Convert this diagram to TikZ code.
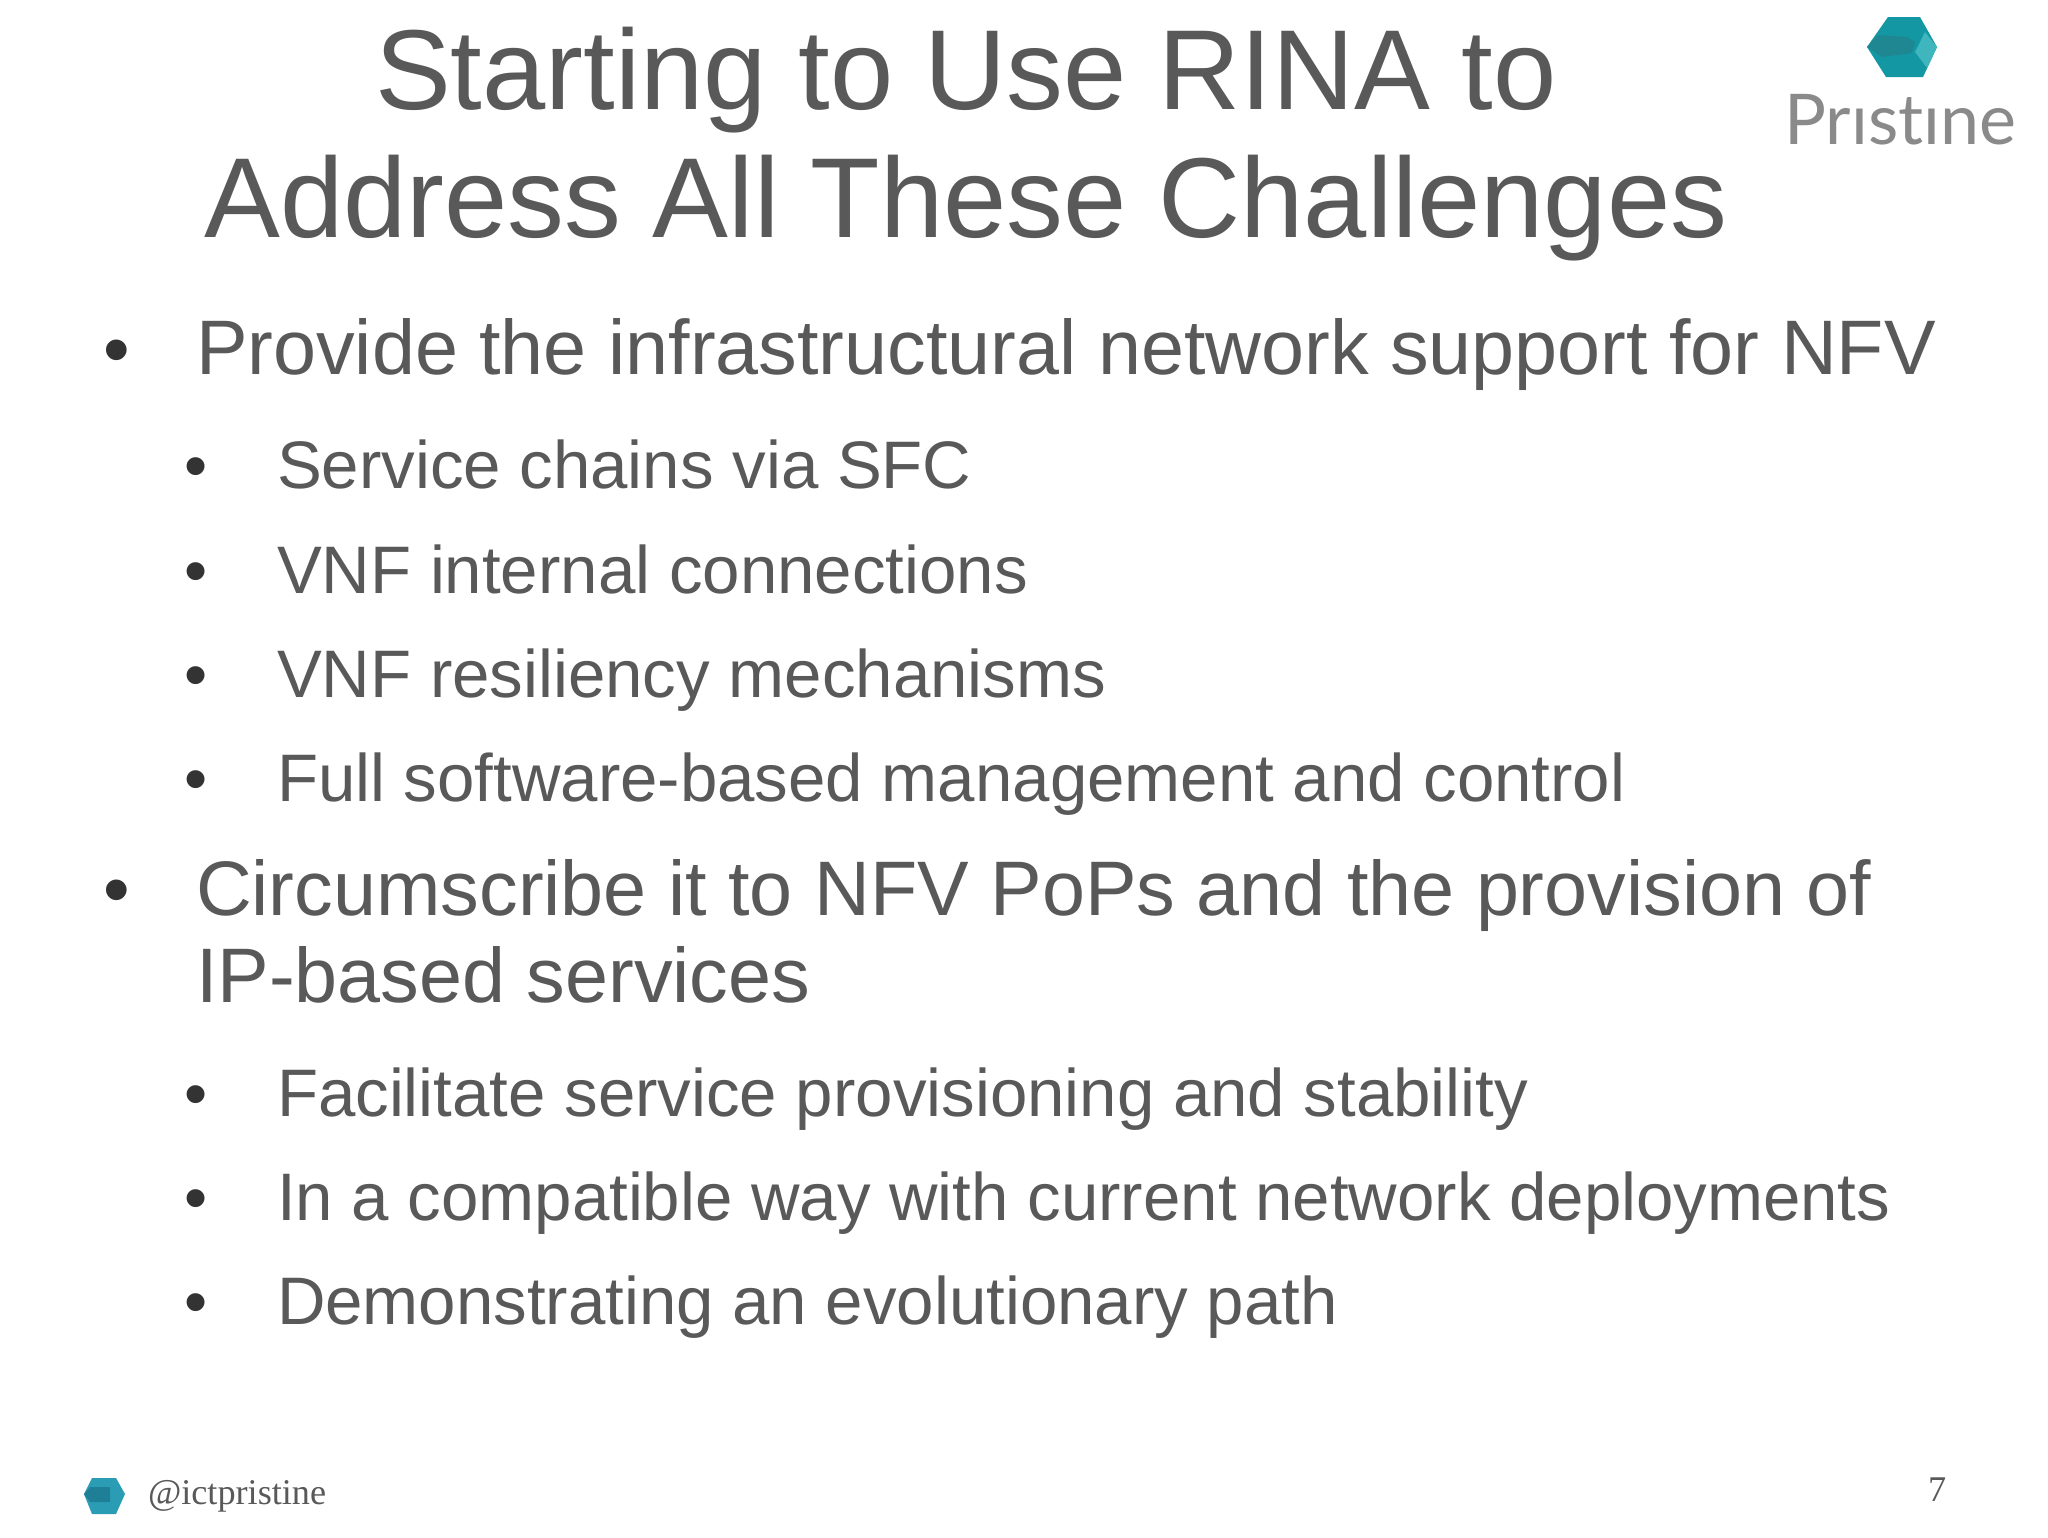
\documentclass[tikz,border=0pt]{standalone}
\usepackage{fontspec}
\setmainfont{Liberation Sans}
\newfontfamily\footfont{Liberation Serif}
\newfontfamily\logofont{Lato}
\definecolor{bodygrey}{HTML}{595959}
\definecolor{bulletdark}{HTML}{333333}
\definecolor{logogrey}{HTML}{8A8A8A}
\definecolor{tealmain}{HTML}{1297A3}
\definecolor{tealdark}{HTML}{1F8791}
\definecolor{teallight}{HTML}{3FB5BD}
\definecolor{footmain}{HTML}{2A9DB5}
\definecolor{footdark}{HTML}{1F7F96}
\tikzset{x=1pt,y=-1pt,
 txt/.style={anchor=base west,inner sep=0pt,outer sep=0pt,text=bodygrey},
 ttl/.style={anchor=base,inner sep=0pt,text=bodygrey,font=\fontsize{113.7}{128}\selectfont},
 lone/.style={txt,font=\fontsize{77.3}{88}\selectfont},
 ltwo/.style={txt,font=\fontsize{67.2}{78}\selectfont},
 bone/.style={anchor=base,inner sep=0pt,text=bulletdark,font=\fontsize{76}{88}\selectfont},
 btwo/.style={anchor=base,inner sep=0pt,text=bulletdark,font=\fontsize{66}{78}\selectfont},
 foot/.style={txt,font=\footfont\fontsize{36.2}{42}\selectfont}}
\begin{document}
\begin{tikzpicture}
\useasboundingbox (0,0) rectangle (2048,1537);
\fill[white] (0,0) rectangle (2048,1537);
\node[ttl] (t1) at (966,109) {Starting to Use RINA to};
\node[ttl] (t2) at (966,237) {Address All These Challenges};
% top-right logo
\fill[tealmain] (1867,47) -- (1888,17) -- (1920,17) -- (1937,47) -- (1923,77) -- (1886,77) -- cycle;
\fill[tealdark] (1867,47) -- (1878,35) -- (1907,37) -- (1915,42) -- (1912,53) -- (1882,57) -- cycle;
\fill[teallight] (1925,32) -- (1937,47) -- (1927,68) -- (1915,52) -- cycle;
\node[anchor=base west,inner sep=0pt,text=logogrey,font=\logofont\fontsize{70}{80}\selectfont] (logo) at (1784,144) {Prıst\kern0ptıne};
% body
\node[bone] (b1) at (117,375) {•};
\node[lone] (l1) at (196,374) {Provide the infrastructural network support for NFV};
\node[btwo] (b2) at (196,488) {•};
\node[ltwo] (l2) at (277,488) {Service chains via SFC};
\node[btwo] (b3) at (196,593) {•};
\node[ltwo] (l3) at (277,593) {VNF internal connections};
\node[btwo] (b4) at (196,697) {•};
\node[ltwo] (l4) at (277,697) {VNF resiliency mechanisms};
\node[btwo] (b5) at (196,801) {•};
\node[ltwo] (l5) at (277,801) {Full software-based management and control};
\node[bone] (b6) at (117,915) {•};
\node[lone] (l6) at (196,915) {Circumscribe it to NFV PoPs and the provision of};
\node[lone] (l7) at (196,1002) {IP-based services};
\node[btwo] (b7) at (196,1116) {•};
\node[ltwo] (l8) at (277,1116) {Facilitate service provisioning and stability};
\node[btwo] (b8) at (196,1220) {•};
\node[ltwo] (l9) at (277,1220) {In a compatible way with current network deployments};
\node[btwo] (b9) at (196,1324) {•};
\node[ltwo] (l10) at (277,1324) {Demonstrating an evolutionary path};
% footer
\fill[footmain] (84,1494) -- (92,1478) -- (116,1478) -- (125,1494) -- (116,1514) -- (92,1514) -- cycle;
\fill[footdark] (84,1494) -- (90,1487) -- (110,1487) -- (110,1502) -- (90,1502) -- cycle;
\node[foot] (f1) at (148,1504) {@ictpristine};
\node[foot] (f2) at (1928,1501) {7};
\end{tikzpicture}
\end{document}
